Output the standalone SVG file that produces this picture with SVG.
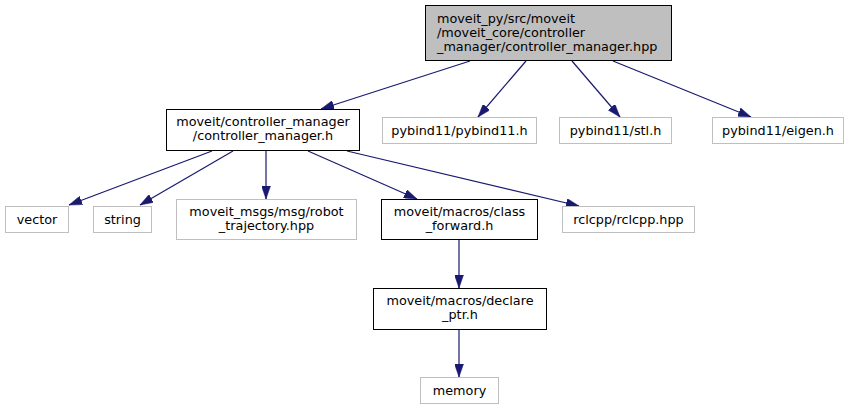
<svg xmlns="http://www.w3.org/2000/svg" width="852" height="409" viewBox="0 0 852 409">
<defs>
<style>
.n rect{stroke:#000;stroke-width:1;fill:#fff}
.u rect{stroke:#bfbfbf;stroke-width:1;fill:#fff}
.r rect{fill:#bfbfbf}
text{font-family:"DejaVu Sans",sans-serif;font-size:12.8px;fill:#000;text-anchor:middle}
.e line{stroke:#191970;stroke-width:1.2;fill:none}
</style>
<marker id="ah" viewBox="0 0 13 9" refX="13" refY="4.5" markerWidth="13" markerHeight="9" markerUnits="userSpaceOnUse" orient="auto">
<path d="M0,0 L13,4.5 L0,9 z" fill="#191970" stroke="#191970" stroke-width="0.5"/>
</marker>
</defs>
<rect width="852" height="409" fill="#fff"/>
<g id="edges" class="e">
<line x1="470" y1="61" x2="321" y2="109" marker-end="url(#ah)"/>
<line x1="526" y1="61" x2="478" y2="117" marker-end="url(#ah)"/>
<line x1="572" y1="61" x2="620" y2="117" marker-end="url(#ah)"/>
<line x1="613" y1="61" x2="751" y2="117" marker-end="url(#ah)"/>
<line x1="212" y1="151" x2="69" y2="205" marker-end="url(#ah)"/>
<line x1="233" y1="151" x2="140" y2="205" marker-end="url(#ah)"/>
<line x1="266" y1="151" x2="266" y2="199" marker-end="url(#ah)"/>
<line x1="308" y1="151" x2="417" y2="199" marker-end="url(#ah)"/>
<line x1="347" y1="151" x2="579" y2="206" marker-end="url(#ah)"/>
<line x1="459" y1="240" x2="459" y2="288" marker-end="url(#ah)"/>
<line x1="459" y1="330" x2="459" y2="377" marker-end="url(#ah)"/>
</g>
<g id="root" class="n r">
<rect x="425.5" y="5.5" width="246" height="55"/>
<text x="437" y="22.5" style="text-anchor:start">moveit_py/src/moveit</text>
<text x="437" y="36.5" style="text-anchor:start">/moveit_core/controller</text>
<text x="437" y="50.5" style="text-anchor:start">_manager/controller_manager.hpp</text>
</g>
<g id="controller_manager_h" class="n">
<rect x="166.5" y="109.5" width="193" height="41"/>
<text x="263" y="126">moveit/controller_manager</text>
<text x="263" y="140">/controller_manager.h</text>
</g>
<g id="pybind11_h" class="u">
<rect x="382.5" y="117.5" width="154" height="26"/>
<text x="459.5" y="134.5">pybind11/pybind11.h</text>
</g>
<g id="stl_h" class="u">
<rect x="559.5" y="117.5" width="112" height="26"/>
<text x="615.5" y="134.5">pybind11/stl.h</text>
</g>
<g id="eigen_h" class="u">
<rect x="712.5" y="117.5" width="131" height="26"/>
<text x="778" y="134.5">pybind11/eigen.h</text>
</g>
<g id="vector" class="u">
<rect x="5.5" y="206.5" width="63" height="26"/>
<text x="37" y="223.5">vector</text>
</g>
<g id="string" class="u">
<rect x="93.5" y="206.5" width="58" height="26"/>
<text x="122.5" y="223.5">string</text>
</g>
<g id="robot_trajectory" class="u">
<rect x="176.5" y="199.5" width="180" height="40"/>
<text x="266.5" y="215.5">moveit_msgs/msg/robot</text>
<text x="266.5" y="229.5">_trajectory.hpp</text>
</g>
<g id="class_forward" class="n">
<rect x="381.5" y="199.5" width="156" height="40"/>
<text x="459.5" y="215.5">moveit/macros/class</text>
<text x="459.5" y="229.5">_forward.h</text>
</g>
<g id="rclcpp" class="u">
<rect x="562.5" y="206.5" width="132" height="26"/>
<text x="628.5" y="223.5">rclcpp/rclcpp.hpp</text>
</g>
<g id="declare_ptr" class="n">
<rect x="373.5" y="288.5" width="173" height="41"/>
<text x="460" y="305">moveit/macros/declare</text>
<text x="460" y="319">_ptr.h</text>
</g>
<g id="memory" class="u">
<rect x="420.5" y="377.5" width="78" height="26"/>
<text x="459.5" y="394.5">memory</text>
</g>
</svg>
